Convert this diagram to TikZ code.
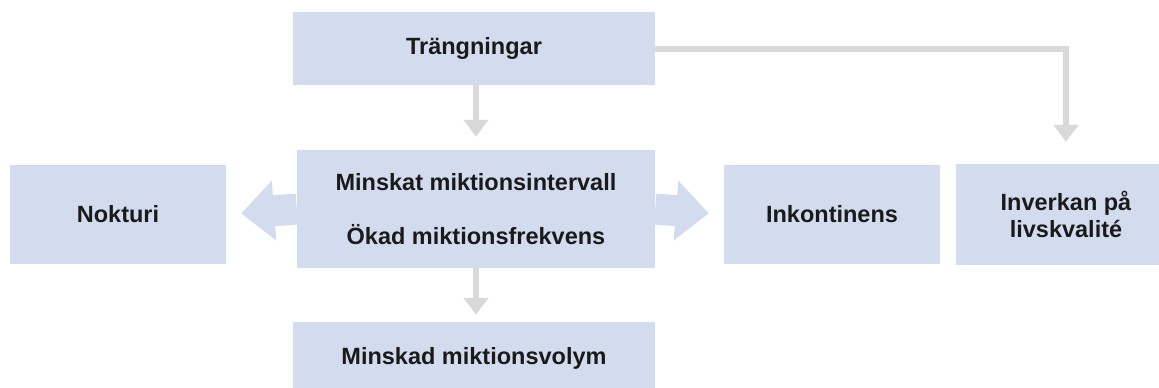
\documentclass[tikz,border=0pt]{standalone}
\usepackage{fontspec}
\setmainfont{Liberation Sans}
\usepackage{tikz}
\usetikzlibrary{arrows.meta}
\definecolor{boxblue}{HTML}{D3DCEF}
\definecolor{arrowgray}{HTML}{D9D9D9}
\definecolor{textdark}{HTML}{1A1A1A}

\begin{document}
\begin{tikzpicture}[x=1pt, y=-1pt,
		box/.style={fill=boxblue, inner sep=0pt, align=center, text=textdark,
			font=\bfseries\fontsize{23.5}{26.5}\selectfont},
		thinarrow/.style={draw=arrowgray, line width=6pt, -{Triangle[width=24pt,length=17pt]}},
		fatarrow/.style={draw=boxblue, line width=31pt, -{Triangle[width=58pt,length=33pt]}}]
			\useasboundingbox (0,0) rectangle (1159,388);
			\node[box, minimum width=362pt, minimum height=73pt] (trang) at (474,48.5) {Trängningar};
			\node[box, minimum width=358pt, minimum height=118pt] (mikt) at (476,209) {Minskat miktionsintervall\\[27.5pt]Ökad miktionsfrekvens};
			\node[box, minimum width=216pt, minimum height=99pt] (nokt) at (118,214.5) {Nokturi};
			\node[box, minimum width=216pt, minimum height=99pt] (inko) at (832,214.5) {Inkontinens};
			\node[box, minimum width=220pt, minimum height=101pt] (livs) at (1066,214.5) {Inverkan på\\livskvalité};
			\node[box, minimum width=362pt, minimum height=72pt] (volym) at (474,358) {Minskad miktionsvolym};
			\draw[thinarrow, shorten >=13pt] (trang.south -| mikt) -- (mikt.north);
			\draw[thinarrow, shorten >=7pt] (mikt.south) -- (mikt.south |- volym.north);
			\draw[thinarrow, shorten >=22pt] (trang.east) -| (livs.north);
			\draw[fatarrow, shorten >=15pt] (mikt.west) -- (nokt.east);
			\draw[fatarrow, shorten >=15pt] (mikt.east) -- (inko.west);
		\end{tikzpicture}
\end{document}
